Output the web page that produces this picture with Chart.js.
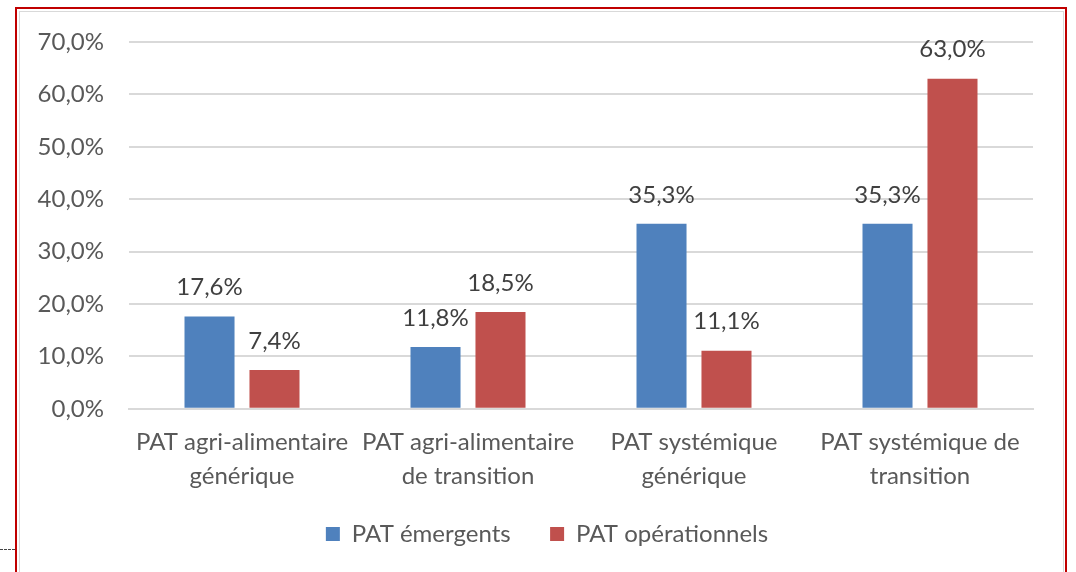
<!DOCTYPE html>
<html>
<head>
<meta charset="utf-8">
<script src="https://cdn.jsdelivr.net/npm/chart.js@4"></script>
<style>
  body { margin: 0; background: #fff; overflow: hidden; }
  #frame { position: absolute; left: 15px; top: 7px; width: 1048px; height: 600px;
           border: 2px solid #c00000; }
  #inner { position: absolute; left: 2px; top: 2px; right: 1px; bottom: 0;
           border: 1px solid #d9d9d9; }
  #dash { position: absolute; left: 0; top: 549px; width: 15px; border-top: 1px dashed #444; }
  #wrap { position: absolute; left: 0; top: 0; width: 1076px; height: 572px; }
</style>
</head>
<body>
<div id="dash"></div>
<div id="frame"><div id="inner"></div></div>
<div id="wrap"><canvas id="myChart" width="1076" height="572"></canvas></div>
<script>
// categories / series
var categories = [
  ['PAT agri-alimentaire', 'générique'],
  ['PAT agri-alimentaire', 'de transition'],
  ['PAT systémique', 'générique'],
  ['PAT systémique de', 'transition']
];
var emergents = [17.6, 11.8, 35.3, 35.3];
var operationnels = [7.4, 18.5, 11.1, 63.0];
var yTicks = [0, 10, 20, 30, 40, 50, 60, 70];

function pct(v) {
  return v.toFixed(1).replace('.', ',') + '%';
}

// value labels above each bar
var barLabels = {
  id: 'barLabels',
  afterDatasetsDraw: function(chart) {
    var ctx = chart.ctx;
    ctx.save();
    ctx.font = '24px Lato, "Open Sans", sans-serif';
    ctx.fillStyle = '#404040';
    ctx.textAlign = 'center';
    ctx.textBaseline = 'middle';
    chart.data.datasets.forEach(function(ds, i) {
      chart.getDatasetMeta(i).data.forEach(function(bar, j) {
        ctx.fillText(pct(ds.data[j]), bar.x, bar.y - 29);
      });
    });
    ctx.restore();
  }
};

// legend is centred on the frame, not on the plot
var legendShift = {
  id: 'legendShift',
  afterLayout: function(chart) {
    chart.legend.left += 20.5;
    chart.legend.right += 20.5;
  }
};

var ctx = document.getElementById('myChart').getContext('2d');
var myChart = new Chart(ctx, {
  type: 'bar',
  data: {
    labels: categories,
    datasets: [{
      label: 'PAT émergents',
      data: emergents,
      backgroundColor: '#4f81bd'
    }, {
      label: 'PAT opérationnels',
      data: operationnels,
      backgroundColor: '#c0504d'
    }]
  },
  options: {
    responsive: false,
    animation: false,
    layout: { padding: { left: 20, top: 42, right: 43, bottom: 16 } },
    datasets: { bar: { categoryPercentage: 0.575, barPercentage: 0.77 } },
    plugins: {
      tooltip: { enabled: false },
      legend: {
        position: 'bottom',
        labels: {
          font: { family: 'Lato, "Open Sans", sans-serif', size: 24 },
          color: '#595959',
          boxWidth: 14,
          boxHeight: 14,
          padding: 21,
          generateLabels: function(chart) {
            var items = Chart.defaults.plugins.legend.labels.generateLabels(chart);
            items[0].text += '   ';
            return items;
          }
        }
      }
    },
    scales: {
      x: {
        grid: { display: false },
        border: { color: '#d9d9d9', width: 2 },
        ticks: {
          font: { family: 'Lato, "Open Sans", sans-serif', size: 24, lineHeight: 1.42 },
          color: '#595959',
          maxRotation: 0,
          autoSkip: false,
          padding: 8
        }
      },
      y: {
        min: 0,
        max: 70,
        afterFit: function(scale) { scale.width = 109; },
        afterBuildTicks: function(scale) {
          scale.ticks = yTicks.map(function(v) { return { value: v }; });
        },
        grid: { color: '#d9d9d9', lineWidth: 2, drawTicks: false },
        border: { display: false },
        ticks: {
          font: { family: 'Lato, "Open Sans", sans-serif', size: 24 },
          color: '#595959',
          padding: 25,
          callback: function(v) { return pct(v); }
        }
      }
    }
  },
  plugins: [barLabels, legendShift]
});
</script>
</body>
</html>
